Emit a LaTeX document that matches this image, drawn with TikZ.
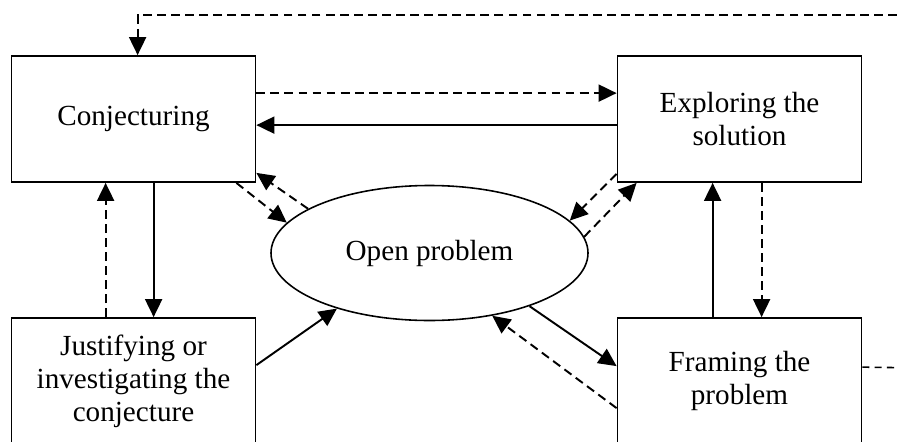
\documentclass[tikz,border=0pt]{standalone}
\usepackage{fontspec}
\setmainfont{Liberation Serif}
\usetikzlibrary{arrows.meta,shapes.geometric,positioning}

\begin{document}
\begin{tikzpicture}[>={Triangle[length=3.6mm,width=3.4mm]},
	stage/.style={draw,line width=1pt,minimum width=4.88cm,minimum height=2.52cm,inner sep=0pt,align=center,font=\fontsize{16.6}{18.7}\selectfont},
	flow/.style={->,line width=1.1pt},
	hint/.style={->,line width=1.1pt,dash pattern=on 5pt off 3pt}
	]

	\useasboundingbox (0,0) rectangle (17.98,8.82);

	\node[stage] (conj) at (2.67,6.44) {Conjecturing};
	\node[stage] (expl) at (14.79,6.44) {Exploring the\\solution};
	\node[stage] (just) at (2.67,1.20) {Justifying or\\investigating the\\conjecture};
	\node[stage] (frame) at (14.79,1.20) {Framing the\\problem};

	\node[draw,ellipse,line width=0.9pt,minimum width=6.34cm,minimum height=2.70cm,inner sep=0pt,font=\fontsize{16.6}{18.7}\selectfont] (open) at (8.59,3.76) {Open problem};

	\coordinate (topend) at (18.5,8.52);
	\coordinate (sideend) at (18.5,1.46);

	\draw[hint] (topend) -| ([xshift=2.54cm]conj.north west);
	\draw[line width=0.9pt,dash pattern=on 4pt off 3pt] ([yshift=-1cm]frame.north east) -- (sideend);

	\draw[hint] ([yshift=-0.76cm]conj.north east) -- ([yshift=-0.76cm]expl.north west);
	\draw[flow] ([yshift=-1.40cm]expl.north west) -- ([yshift=-1.40cm]conj.north east);

	\draw[flow] ([xshift=2.86cm]conj.south west) -- ([xshift=2.86cm]just.north west);
	\draw[hint] ([xshift=1.90cm]just.north west) -- ([xshift=1.90cm]conj.south west);

	\draw[flow] ([xshift=1.92cm]frame.north west) -- ([xshift=1.92cm]expl.south west);
	\draw[hint] ([xshift=2.90cm]expl.south west) -- ([xshift=2.90cm]frame.north west);

	\draw[hint] ([xshift=-0.4cm]conj.south east) -- (open.168);
	\draw[hint] (open.160) -- ([yshift=0.2cm]conj.south east);
	\draw[hint] ([yshift=0.18cm]expl.south west) -- (open.13);
	\draw[hint] (open.6) -- ([xshift=0.4cm]expl.south west);

	\draw[flow] ([yshift=-0.96cm]just.north east) -- (open.211);
	\draw[flow] (open.-28) -- ([yshift=-0.98cm]frame.north west);
	\draw[hint] ([yshift=-1.82cm]frame.north west) -- (open.-45);
\end{tikzpicture}
\end{document}
